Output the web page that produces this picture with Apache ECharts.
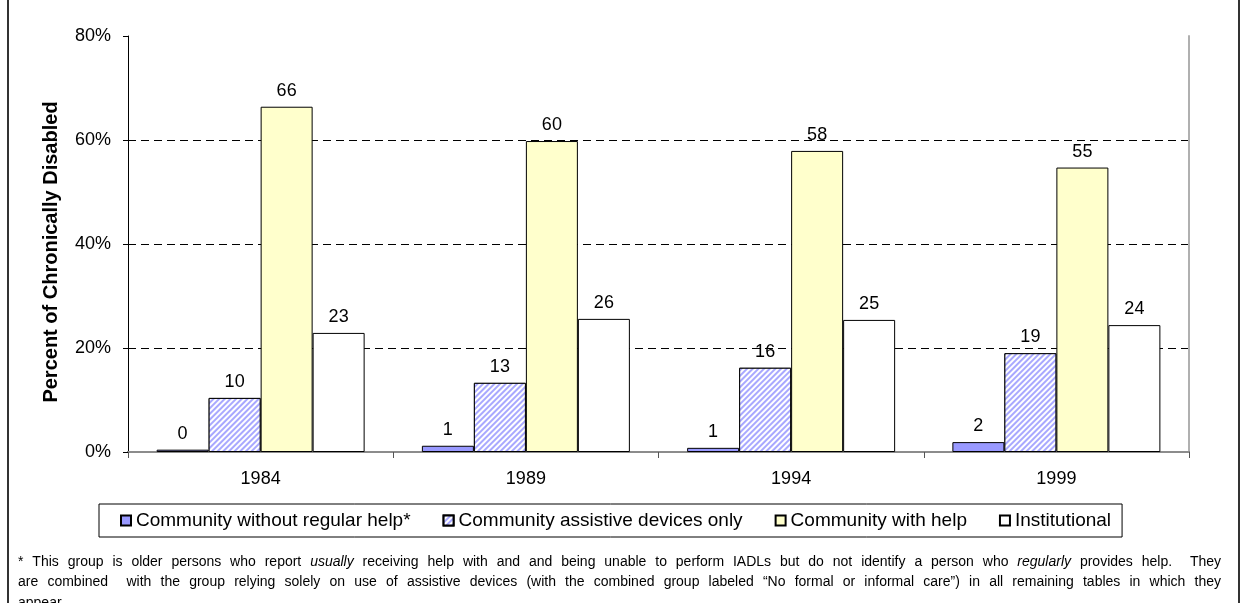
<!DOCTYPE html>
<html>
<head>
<meta charset="utf-8">
<script src="https://cdn.jsdelivr.net/npm/echarts@6/dist/echarts.min.js"></script>
<style>
  html, body { margin: 0; padding: 0; background: #fff; }
  #chart { width: 1241px; height: 603px; }
</style>
</head>
<body>
<div id="chart"></div>
<script>
// Survey years and shares of the chronically disabled by care arrangement (%)
const years = ['1984', '1989', '1994', '1999'];
const seriesNames = [
  'Community without regular help*',
  'Community assistive devices only',
  'Community with help',
  'Institutional'
];
const noRegularHelp = [0.45, 1.2, 0.8, 1.9];
const devicesOnly = [10.4, 13.3, 16.2, 19.0];
const withHelp = [66.4, 59.8, 57.9, 54.7];
const institutional = [22.9, 25.6, 25.4, 24.4];
const yTicks = [0, 20, 40, 60, 80];

// Footnote lines; words wrapped in underscores are set in italics
const footnoteLines = [
  '* This group is older persons who report _usually_ receiving help with and and being unable to perform IADLs but do not identify a person who _regularly_ provides help.  They',
  'are combined  with the group relying solely on use of assistive devices (with the combined group labeled \u201cNo formal or informal care\u201d) in all remaining tables in which they',
  'appear.'
];

const FONT = '"Liberation Sans", Arial, Helvetica, sans-serif';

// Diagonal hatch stripes for the assistive-devices bars
const hatchDecal = {
  symbol: 'rect',
  symbolSize: 1,
  color: '#a8a8ff',
  backgroundColor: '#ffffff',
  dashArrayX: [1, 0],
  dashArrayY: [1.4, 1.6],
  rotation: -Math.PI / 4
};

// Justified footnote built word by word
function footnoteGraphics() {
  const size = 14;
  const left = 18, right = 1221;
  const lineY = [562, 582, 603];
  const cvs = document.createElement('canvas').getContext('2d');
  const out = [];
  footnoteLines.forEach((line, li) => {
    const tokens = line.split(' ').map(t => {
      const italic = /^_.+_$/.test(t);
      return { text: italic ? t.slice(1, -1) : t, italic };
    });
    const fontOf = tk => (tk.italic ? 'italic ' : '') + size + 'px ' + FONT;
    tokens.forEach(tk => { cvs.font = fontOf(tk); tk.w = tk.text ? cvs.measureText(tk.text).width : 0; });
    const total = tokens.reduce((s, tk) => s + tk.w, 0);
    const justify = li < footnoteLines.length - 1;
    cvs.font = size + 'px ' + FONT;
    const space = justify ? (right - left - total) / (tokens.length - 1) : cvs.measureText(' ').width;
    let x = left;
    tokens.forEach(tk => {
      if (tk.text) {
        out.push({
          type: 'text', x: x, y: lineY[li], silent: true,
          style: { text: tk.text, font: fontOf(tk), fill: '#000', verticalAlign: 'middle' }
        });
      }
      x += tk.w + space;
    });
  });
  return out;
}

const chart = echarts.init(document.getElementById('chart'), null, { renderer: 'canvas' });

const barLabel = {
  show: true, position: 'top', distance: 7,
  color: '#000', fontSize: 18, fontFamily: FONT,
  formatter: p => String(Math.round(p.value))
};

function bar(name, data, color, decal) {
  const itemStyle = { color, borderColor: '#000', borderWidth: 1 };
  if (decal) itemStyle.decal = decal;
  return {
    name, type: 'bar', data,
    xAxisIndex: 0, yAxisIndex: 0,
    barWidth: 52, barGap: '0%',
    itemStyle,
    label: barLabel,
    emphasis: { disabled: true }
  };
}

chart.setOption({
  animation: false,
  backgroundColor: '#fff',
  grid: { left: 128, right: 52, top: 36, bottom: 151, outerBoundsMode: 'none' },
  legend: {
    data: seriesNames,
    left: 99, top: 504,
    orient: 'horizontal',
    padding: [7, 11, 7, 21],
    itemGap: 32, itemWidth: 10, itemHeight: 10,
    icon: 'rect',
    borderColor: '#000', borderWidth: 1,
    textStyle: { fontSize: 19, fontFamily: FONT, color: '#000' },
    selectedMode: false
  },
  xAxis: [
    {
      type: 'category', data: years, position: 'bottom',
      axisLine: { lineStyle: { color: '#666', width: 2 } },
      axisTick: { show: true, length: 6, lineStyle: { color: '#555' } },
      axisLabel: { fontSize: 18, fontFamily: FONT, color: '#000', margin: 18 },
      splitLine: { show: false }
    },
    {
      type: 'category', data: years, position: 'top',
      axisLine: { lineStyle: { color: '#8c8c8c', width: 2 } },
      axisTick: { show: false }, axisLabel: { show: false }, splitLine: { show: false }
    }
  ],
  yAxis: [
    {
      type: 'value', min: yTicks[0], max: yTicks[yTicks.length - 1], interval: 20,
      name: 'Percent of Chronically Disabled',
      nameLocation: 'middle', nameGap: 67,
      nameTextStyle: { fontSize: 20, fontWeight: 'bold', fontFamily: FONT, color: '#000', padding: [0, 16, 0, 0] },
      axisLine: { show: true, lineStyle: { color: '#000', width: 1 } },
      axisTick: { show: true, length: 5, lineStyle: { color: '#000' } },
      axisLabel: { formatter: '{value}%', fontSize: 18, fontFamily: FONT, color: '#000', margin: 17 },
      splitLine: {
        show: true,
        lineStyle: { color: ['transparent', '#000', '#000', '#000', 'transparent'], type: [8, 5], width: 1 }
      }
    },
    {
      type: 'value', min: yTicks[0], max: yTicks[yTicks.length - 1], interval: 20, position: 'right',
      axisLine: { show: true, lineStyle: { color: '#b0b0b0', width: 2 } },
      axisTick: { show: false }, axisLabel: { show: false }, splitLine: { show: false }
    }
  ],
  series: [
    bar(seriesNames[0], noRegularHelp, '#9999ff'),
    bar(seriesNames[1], devicesOnly, '#ffffff', hatchDecal),
    bar(seriesNames[2], withHelp, '#ffffcc'),
    bar(seriesNames[3], institutional, '#ffffff')
  ],
  graphic: [
    {
      type: 'rect', silent: true, z: 100,
      shape: { x: 8, y: -10, width: 1231, height: 630 },
      style: { fill: 'none', stroke: '#333', lineWidth: 2 }
    }
  ].concat(footnoteGraphics())
});
</script>
</body>
</html>
